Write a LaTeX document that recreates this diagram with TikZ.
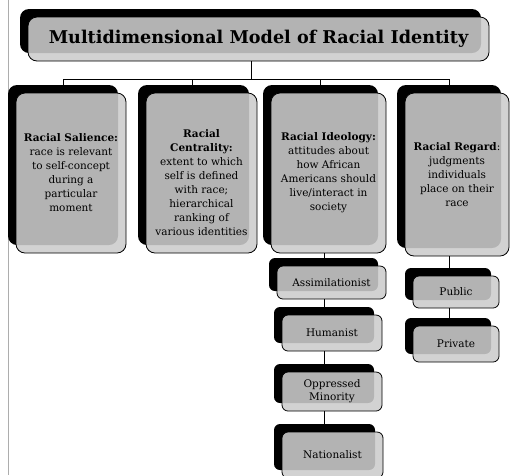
\documentclass[tikz,border=0pt]{standalone}
\usepackage{fontspec}
\setmainfont{DejaVu Serif}
\usetikzlibrary{shadows}
\definecolor{boxgray}{gray}{0.80}
\definecolor{edgegray}{gray}{0.68}
\begin{document}
\begin{tikzpicture}[x=1pt,y=-1pt,
  boxbase/.style={draw=black, line width=0.8pt, fill=boxgray, fill opacity=0.88, text opacity=1,
    align=center, inner sep=0pt, outer sep=0pt,
    copy shadow={shadow xshift=-8pt, shadow yshift=8pt, fill=black, draw=none, fill opacity=1}},
  bigbox/.style={boxbase, rounded corners=9pt},
  smallbox/.style={boxbase, rounded corners=6pt, font=\fontsize{10.5}{13}\selectfont},
  txt/.style={align=center, inner sep=0pt, font=\fontsize{10.5}{14}\selectfont},
  conn/.style={draw=black, line width=0.8pt}
]
\useasboundingbox (0,0) rectangle (513,475);
\draw[edgegray, line width=1pt] (8,0) -- (8,475);

% title
\node[bigbox, minimum width=461pt, minimum height=44pt, font=\fontsize{17.6}{20}\selectfont\bfseries] (title) at (258.5,39) {Multidimensional Model of Racial Identity};

% main boxes
\node[bigbox, minimum width=110pt, minimum height=160pt] (b1) at (71,173) {};
\node[bigbox, minimum width=111pt, minimum height=160pt] (b2) at (201.5,173) {};
\node[bigbox, minimum width=115pt, minimum height=160pt] (b3) at (328.5,173) {};
\node[bigbox, minimum width=104pt, minimum height=163pt] (b4) at (457,174.5) {};

\node[txt] (t1) at (71,173) {\textbf{Racial Salience:}\\race is relevant\\to self-concept\\during a\\particular\\moment};
\node[txt] (t2) at (201.5,183) {\textbf{Racial}\\\textbf{Centrality:}\\extent to which\\self is defined\\with race;\\hierarchical\\ranking of\\various identities};
\node[txt] (t3) at (328.5,172.5) {\textbf{Racial Ideology:}\\attitudes about\\how African\\Americans should\\live/interact in\\society};
\node[txt] (t4) at (457,175) {\textbf{Racial Regard}:\\judgments\\individuals\\place on their\\race};

% ideology sub-boxes
\node[smallbox, minimum width=109pt, minimum height=33pt] (a1) at (331.5,282.5) {Assimilationist};
\node[smallbox, minimum width=100pt, minimum height=36pt] (a2) at (332,333) {Humanist};
\node[smallbox, minimum width=100pt, minimum height=39pt] (a3) at (332,391.5) {Oppressed\\Minority};
\node[smallbox, minimum width=101pt, minimum height=46pt] (a4) at (332.5,455) {Nationalist};

% regard sub-boxes
\node[smallbox, minimum width=86pt, minimum height=32pt] (r1) at (456,292) {Public};
\node[smallbox, minimum width=86pt, minimum height=36pt] (r2) at (456,344) {Private};

% connector coordinates
\coordinate (hub) at (251,79);
\coordinate (x1) at (63,79);
\coordinate (x2) at (192,79);
\coordinate (x3) at (320,79);
\coordinate (x4) at (449,79);
\coordinate (ix) at (324,0);
\coordinate (rx) at (449,0);

% connectors
\draw[conn] (hub) -- (hub |- title.south);
\draw[conn] (x1) -- (x4);
\draw[conn] (x1) -- (63,85);
\draw[conn] (x2) -- (192,85);
\draw[conn] (x3) -- (320,85);
\draw[conn] (x4) -- (449,85);
\draw[conn] (ix |- b3.south) -- (324,258);
\draw[conn] (ix |- a1.south) -- (324,307);
\draw[conn] (ix |- a2.south) -- (324,364);
\draw[conn] (ix |- a3.south) -- (324,424);
\draw[conn] (rx |- b4.south) -- (449,268);
\draw[conn] (rx |- r1.south) -- (449,318);
\end{tikzpicture}
\end{document}
